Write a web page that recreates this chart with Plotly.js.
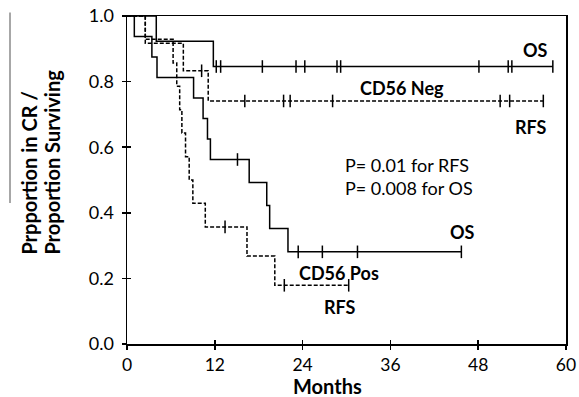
<!DOCTYPE html>
<html>
<head>
<meta charset="utf-8">
<script src="https://cdn.plot.ly/plotly-3.0.1.min.js"></script>
<style>html,body{margin:0;padding:0;background:#fff;}#chart{width:579px;height:397px;}</style>
</head>
<body>
<div id="chart"></div>
<script>
// ---- Data (months, proportion) ----
const negOS_t = [0, 4.0, 11.8];
const negOS_s = [1, 0.923, 0.846];
const negOS_cens = [12.2, 12.8, 18.5, 23.1, 24.3, 28.7, 29.2, 48.1, 52.1, 52.6, 58.2];

const negRFS_t = [0, 2.5, 7.7, 11.1];
const negRFS_s = [1, 0.917, 0.833, 0.741];
const negRFS_cens = [10.2, 16.1, 21.4, 22.3, 28.1, 51.0, 52.3, 56.9];

const posOS_t = [0, 1.0, 3.4, 4.1, 9.1, 10.4, 11.0, 11.4, 16.7, 19.1, 19.5, 22.0];
const posOS_s = [1, 0.9375, 0.875, 0.8125, 0.75, 0.6875, 0.625, 0.5625, 0.492, 0.422, 0.352, 0.281];
const posOS_cens = [15.1, 23.4, 26.7, 31.5, 45.7];

const posRFS_t = [0, 2.5, 6.3, 6.8, 7.2, 7.5, 8.0, 8.5, 9.0, 10.7, 16.4, 20.2];
const posRFS_s = [1, 0.929, 0.857, 0.786, 0.714, 0.643, 0.571, 0.5, 0.429, 0.357, 0.268, 0.179];
const posRFS_cens = [13.4, 21.5, 30.3];

const xTicks = [0, 12, 24, 36, 48, 60];
const yTicks = [0, 0.2, 0.4, 0.6, 0.8, 1.0];

// ---- helpers ----
function survAt(t, times, surv) {
  let v = surv[0];
  for (let i = 0; i < times.length; i++) if (times[i] <= t) v = surv[i];
  return v;
}
function curve(times, surv, cens, dash) {
  const last = Math.max(...cens, ...times);
  const x = times.concat([last]);
  const y = surv.concat([surv[surv.length - 1]]);
  return [
    {x: x, y: y, mode: 'lines', line: {shape: 'hv', color: '#000', width: 1.5, dash: dash}, hoverinfo: 'skip', showlegend: false},
    {x: cens, y: cens.map(c => survAt(c, times, surv)), mode: 'markers',
     marker: {symbol: 'line-ns-open', size: 9, color: '#000', line: {color: '#000', width: 1.5}}, hoverinfo: 'skip', showlegend: false}
  ];
}

const dashPat = '4px,2px';
const traces = [].concat(
  curve(negOS_t, negOS_s, negOS_cens, 'solid'),
  curve(negRFS_t, negRFS_s, negRFS_cens, dashPat),
  curve(posOS_t, posOS_s, posOS_cens, 'solid'),
  curve(posRFS_t, posRFS_s, posRFS_cens, dashPat),
  [{x: [], y: [], xaxis: 'x2', yaxis: 'y2', mode: 'markers', showlegend: false, hoverinfo: 'skip'}]
);

const F = 'Lato, "Open Sans", sans-serif';
const lbl = (x, y, text, opts) => Object.assign({x: x, y: y, xref: 'x', yref: 'y', text: text, showarrow: false,
  xanchor: 'center', yanchor: 'middle',
  font: {family: F, size: 18, color: '#000', weight: 'bold'}}, opts || {});

const layout = {
  width: 579, height: 397,
  margin: {l: 127, r: 13, t: 16, b: 53},
  paper_bgcolor: '#fff', plot_bgcolor: '#fff',
  showlegend: false,
  font: {family: F, color: '#000'},
  xaxis: {range: [0, 60], tickvals: xTicks, ticktext: xTicks.map(String), ticks: 'outside', ticklen: 4, tickwidth: 1.5,
          tickcolor: '#000', showline: true, linecolor: '#000', linewidth: 1.5, mirror: true, showgrid: false, zeroline: false,
          tickfont: {family: F, size: 17.5, color: '#000'}, ticklabelstandoff: 0, fixedrange: true},
  yaxis: {range: [0, 1], tickvals: yTicks, ticktext: yTicks.map(v => v.toFixed(1)), ticks: 'outside', ticklen: 4, tickwidth: 1.5,
          tickcolor: '#000', showline: true, linecolor: '#000', linewidth: 1.5, mirror: true, showgrid: false, zeroline: false,
          tickfont: {family: F, size: 18, color: '#000'}, ticklabelstandoff: 4, fixedrange: true},
  xaxis2: {overlaying: 'x', range: [0, 60], tickvals: xTicks, ticks: 'inside', ticklen: 4, tickwidth: 1.5, tickcolor: '#000',
           showticklabels: false, showline: false, showgrid: false, zeroline: false, fixedrange: true},
  yaxis2: {overlaying: 'y', range: [0, 1], tickvals: yTicks, ticks: 'inside', ticklen: 4, tickwidth: 1.5, tickcolor: '#000',
           showticklabels: false, showline: false, showgrid: false, zeroline: false, fixedrange: true},
  shapes: [
    {type: 'line', xref: 'paper', yref: 'paper', x0: -0.2665, x1: -0.2665, y0: 1.011, y1: 0.43,
     line: {color: '#8a8a8a', width: 1.5}}
  ],
  annotations: [
    lbl(55.8, 0.896, 'OS'),
    lbl(37.6, 0.780, 'CD56 Neg'),
    lbl(55.2, 0.661, 'RFS'),
    lbl(29.5, 0.545, 'P= 0.01 for RFS', {xanchor: 'left', font: {family: F, size: 18, color: '#000'}}),
    lbl(29.5, 0.475, 'P= 0.008 for OS', {xanchor: 'left', font: {family: F, size: 18, color: '#000'}}),
    lbl(45.8, 0.341, 'OS'),
    lbl(29.0, 0.216, 'CD56 Pos'),
    lbl(29.1, 0.113, 'RFS'),
    {x: 0.4556, y: -0.127, xref: 'paper', yref: 'paper', text: 'Months', showarrow: false,
     xanchor: 'center', yanchor: 'middle', borderpad: 0,
     font: {family: F, size: 20, color: '#000', weight: 'bold'}},
    {x: -0.2232, y: 0.265, xref: 'paper', yref: 'paper', text: 'Prpportion in CR /', showarrow: false, textangle: -90,
     xanchor: 'center', yanchor: 'bottom', font: {family: F, size: 20, color: '#000', weight: 'bold'}},
    {x: -0.1708, y: 0.265, xref: 'paper', yref: 'paper', text: 'Proportion Surviving', showarrow: false, textangle: -90,
     xanchor: 'center', yanchor: 'bottom', font: {family: F, size: 20, color: '#000', weight: 'bold'}}
  ]
};

Plotly.newPlot('chart', traces, layout, {staticPlot: true, displayModeBar: false});
</script>
</body>
</html>
